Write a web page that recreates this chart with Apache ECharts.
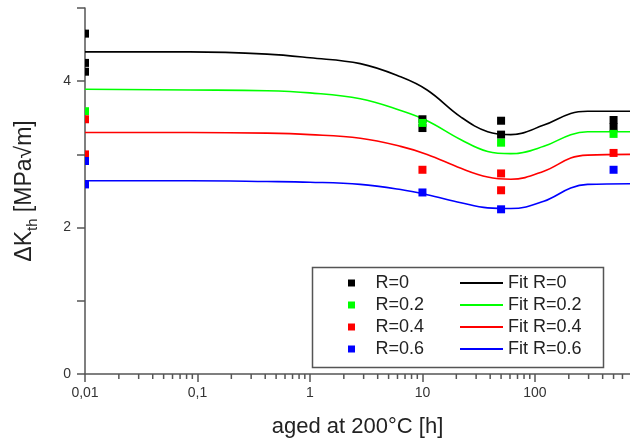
<!DOCTYPE html>
<html>
<head>
<meta charset="utf-8">
<script src="https://cdn.jsdelivr.net/npm/echarts@6/dist/echarts.min.js"></script>
<style>html,body{margin:0;padding:0;background:#fff;}#c{width:630px;height:443px;}</style>
</head>
<body>
<div id="c"></div>
<script>
// ---- data ----
const seriesNames = ['R=0', 'R=0.2', 'R=0.4', 'R=0.6'];
const fitNames = ['Fit R=0', 'Fit R=0.2', 'Fit R=0.4', 'Fit R=0.6'];
const colors = ['#000000', '#00ff00', '#ff0000', '#0000ff'];

const r0X = [0.01, 0.01, 0.01, 10, 10, 50, 50, 500, 500];
const r0Y = [4.65, 4.25, 4.13, 3.48, 3.36, 3.46, 3.27, 3.47, 3.37];
const r02X = [0.01, 10, 50, 500];
const r02Y = [3.59, 3.43, 3.16, 3.28];
const r04X = [0.01, 0.01, 10, 50, 50, 500];
const r04Y = [3.48, 3.00, 2.79, 2.74, 2.51, 3.02];
const r06X = [0.01, 0.01, 10, 50, 500];
const r06Y = [2.91, 2.59, 2.48, 2.25, 2.79];

const fitX = [0.01, 0.086, 0.415, 1, 2.8, 6.4, 11, 22, 38, 61, 120, 208, 294, 700];
const fitR0 = [4.40, 4.40, 4.37, 4.32, 4.24, 4.06, 3.88, 3.51, 3.31, 3.27, 3.40, 3.56, 3.59, 3.59];
const fitR02 = [3.89, 3.88, 3.87, 3.84, 3.76, 3.60, 3.46, 3.20, 3.04, 3.01, 3.11, 3.27, 3.31, 3.31];
const fitR04 = [3.30, 3.30, 3.29, 3.27, 3.22, 3.11, 3.00, 2.81, 2.69, 2.66, 2.77, 2.95, 2.99, 3.00];
const fitR06 = [2.64, 2.64, 2.63, 2.62, 2.59, 2.52, 2.45, 2.34, 2.27, 2.26, 2.36, 2.54, 2.59, 2.60];

const xMin = 0.01, xMax = 700;
const yMin = 0, yMax = 5;
const yLabelValues = [0, 2, 4];
const xMinorTicks = [0.02,0.03,0.04,0.05,0.06,0.07,0.08,0.09,
  0.2,0.3,0.4,0.5,0.6,0.7,0.8,0.9,
  2,3,4,5,6,7,8,9,
  20,30,40,50,60,70,80,90,
  200,300,400,500,600];

// ---- build ----
const scatterX = [r0X, r02X, r04X, r06X];
const scatterY = [r0Y, r02Y, r04Y, r06Y];
const fits = [fitR0, fitR02, fitR04, fitR06];
const font = 'Liberation Sans, Arial, sans-serif';
const axisColor = '#555';
const textColor = '#222';

const series = [];
fits.forEach((f, i) => {
  series.push({
    name: fitNames[i], type: 'line', data: fitX.map((x, k) => [x, f[k]]),
    symbol: 'none', showSymbol: false, smooth: 0.4,
    lineStyle: { color: colors[i], width: 1.6 }, itemStyle: { color: colors[i] },
    z: 2, silent: true
  });
});
scatterX.forEach((xs, i) => {
  series.push({
    name: seriesNames[i], type: 'scatter',
    data: xs.map((x, k) => x === xMin
      ? { value: [x, scatterY[i][k]], symbol: 'path://M0,0h1v2h-1z', symbolSize: [4, 8], symbolOffset: [2, 0] }
      : { value: [x, scatterY[i][k]] }),
    symbol: 'rect', symbolSize: 8, itemStyle: { color: colors[i], opacity: 1 },
    z: 3 + i, silent: true
  });
});
// minor ticks on the log x axis
series.push({
  type: 'custom', silent: true, z: 10, clip: false,
  data: xMinorTicks.map(v => [v, yMin]),
  renderItem: function (params, api) {
    const p = api.coord([api.value(0), api.value(1)]);
    return { type: 'line', shape: { x1: p[0], y1: p[1], x2: p[0], y2: p[1] + 5 },
      style: { stroke: axisColor, lineWidth: 1.5 } };
  }
});

function fmtX(v) {
  const l = Math.log10(v);
  if (Math.abs(l - Math.round(l)) > 1e-6) return '';
  return String(+Number(v).toPrecision(6)).replace('.', ',');
}

const chart = echarts.init(document.getElementById('c'), null, { renderer: 'canvas' });
chart.setOption({
  animation: false,
  backgroundColor: '#fff',
  grid: { left: 85, right: 0, top: 8, bottom: 67, containLabel: false },
  xAxis: {
    type: 'log', logBase: 10, min: xMin, max: xMax,
    name: 'aged at 200°C [h]', nameLocation: 'middle', nameGap: 42,
    nameTextStyle: { fontSize: 22, color: textColor, fontFamily: font },
    axisLine: { show: true, onZero: false, lineStyle: { color: axisColor, width: 1.5 } },
    axisTick: { show: true, length: 8, inside: false, lineStyle: { color: axisColor, width: 1.5 } },
    axisLabel: { formatter: fmtX, fontSize: 14, color: '#333', fontFamily: font, margin: 12, showMaxLabel: false },
    splitLine: { show: false }, minorTick: { show: false }
  },
  yAxis: {
    type: 'value', min: yMin, max: yMax, interval: 1,
    name: '{a|ΔK}{b|th}{a| [MPa√m]}', nameLocation: 'middle', nameGap: 45, nameRotate: 90,
    nameTextStyle: {
      color: textColor, fontFamily: font,
      rich: {
        a: { fontSize: 23, lineHeight: 30, color: textColor, fontFamily: font },
        b: { fontSize: 15, lineHeight: 15, verticalAlign: 'bottom', color: textColor, fontFamily: font }
      }
    },
    axisLine: { show: true, lineStyle: { color: axisColor, width: 1.5 } },
    axisTick: { show: true, length: 8, lineStyle: { color: axisColor, width: 1.5 } },
    axisLabel: {
      formatter: v => (yLabelValues.indexOf(v) >= 0 ? String(v) : ''),
      fontSize: 14, color: '#333', fontFamily: font, margin: 14
    },
    splitLine: { show: false }
  },
  legend: [
    {
      data: seriesNames, orient: 'vertical', left: 343, top: 269,
      itemWidth: 38, itemHeight: 7, itemGap: 4,
      icon: 'path://M0,0h1v1h-1z',
      itemStyle: { opacity: 1 },
      textStyle: { fontSize: 18, color: textColor, fontFamily: font, lineHeight: 18 },
      selectedMode: false
    },
    {
      data: fitNames, orient: 'vertical', left: 455, top: 269,
      itemWidth: 43, itemHeight: 2, itemGap: 4, symbolKeepAspect: false,
      icon: 'path://M0,0h43v2h-43z',
      textStyle: { fontSize: 18, color: textColor, fontFamily: font, lineHeight: 18 },
      selectedMode: false
    }
  ],
  graphic: [
    { type: 'rect', left: 310, top: 265, shape: { width: 291, height: 100 },
      style: { fill: 'none', stroke: '#555', lineWidth: 1.5 }, z: 100, silent: true }
  ],
  series: series
});
</script>
</body>
</html>
